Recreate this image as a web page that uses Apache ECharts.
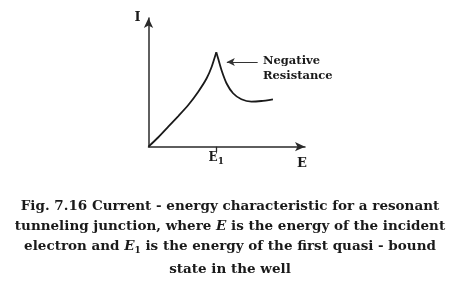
<!DOCTYPE html>
<html>
<head>
<meta charset="utf-8">
<script src="https://cdn.jsdelivr.net/npm/echarts@6/dist/echarts.min.js"></script>
<style>
html,body{margin:0;padding:0;background:#fff;}
#chart{width:459px;height:286px;}
</style>
</head>
<body>
<div id="chart"></div>
<script>
// Data (E in units of E1, I in units of peak current)
const risingE  = [0, 0.145, 0.292, 0.44, 0.587, 0.734, 0.858, 0.932, 1];
const risingI  = [0, 0.10, 0.212, 0.325, 0.442, 0.583, 0.725, 0.847, 1];
const fallingE = [1, 1.026, 1.076, 1.15, 1.247, 1.37, 1.518, 1.665, 1.835];
const fallingI = [1, 0.936, 0.812, 0.672, 0.566, 0.502, 0.477, 0.484, 0.502];
const tickValues = [1];
const tickLabels = ['E1'];
const xAxisName = 'E';
const yAxisName = 'I';
const annotation = ['Negative', 'Resistance'];
const arrowFrom = [1.61, 0.897];
const arrowTo = [1.155, 0.897];
const captionLines = [
  'Fig. 7.16 Current - energy characteristic for a resonant',
  'tunneling junction, where {i|E} is the energy of the incident',
  'electron and {i|E}{sub|1} is the energy of the first quasi - bound',
  'state in the well'
];

const serif = '"DejaVu Serif", serif';
const ink = '#1a1a1a';

const chart = echarts.init(document.getElementById('chart'), null, {renderer: 'canvas'});

const zip = (a, b) => a.map((v, i) => [v, b[i]]);

const lineSeries = (data) => ({
  type: 'line',
  data: data,
  smooth: 0.2,
  showSymbol: false,
  symbol: 'none',
  lineStyle: {color: ink, width: 1.8},
  silent: true,
  animation: false
});

const captionY = [206.7, 226.7, 246.7, 269];

const option = {
  backgroundColor: '#ffffff',
  animation: false,
  grid: {left: 148.5, top: 18, right: 154, bottom: 139.3},
  xAxis: {
    type: 'value',
    min: 0,
    max: 2.308,
    name: xAxisName,
    nameLocation: 'end',
    nameGap: -3,
    nameTextStyle: {
      fontFamily: serif, fontWeight: 'bold', fontSize: 13, color: ink,
      verticalAlign: 'top', align: 'center', padding: [10, 0, 0, 0]
    },
    splitLine: {show: false},
    axisLine: {
      show: true,
      symbol: ['none', 'arrow'],
      symbolSize: [7, 10],
      lineStyle: {color: '#2a2a2a', width: 1.5}
    },
    axisTick: {
      show: true,
      customValues: tickValues,
      length: 5,
      inside: false,
      lineStyle: {color: '#2a2a2a', width: 1.3}
    },
    axisLabel: {
      show: true,
      customValues: tickValues,
      margin: 4,
      formatter: (v) => {
        const lbl = tickLabels[tickValues.indexOf(v)] || '';
        return '{e|' + lbl.charAt(0) + '}{s|' + lbl.slice(1) + '}';
      },
      rich: {
        e: {fontFamily: serif, fontWeight: 'bold', fontSize: 12, color: ink},
        s: {fontFamily: serif, fontWeight: 'bold', fontSize: 9, color: ink, verticalAlign: 'bottom', padding: [6, 0, 0, 0]}
      }
    }
  },
  yAxis: {
    type: 'value',
    min: 0,
    max: 1.363,
    name: yAxisName,
    nameLocation: 'end',
    nameGap: 0,
    nameTextStyle: {
      fontFamily: serif, fontWeight: 'bold', fontSize: 13, color: ink,
      align: 'right', verticalAlign: 'middle', padding: [0, 8, 4, 0]
    },
    splitLine: {show: false},
    axisTick: {show: false},
    axisLabel: {show: false},
    axisLine: {
      show: true,
      symbol: ['none', 'arrow'],
      symbolSize: [7, 10],
      lineStyle: {color: '#2a2a2a', width: 1.5}
    }
  },
  series: [
    lineSeries(zip(risingE, risingI)),
    Object.assign(lineSeries(zip(fallingE, fallingI)), {
      markLine: {
        silent: true,
        symbol: ['none', 'arrow'],
        symbolSize: [6, 8],
        lineStyle: {color: '#333', width: 1, type: 'solid'},
        label: {show: false},
        data: [[{coord: arrowFrom}, {coord: arrowTo}]]
      }
    })
  ],
  graphic: [
    {
      type: 'text',
      left: 263,
      top: 54,
      style: {
        text: annotation.join('\n'),
        fontFamily: serif, fontWeight: 'bold', fontSize: 11.5,
        lineHeight: 15, fill: ink
      }
    }
  ].concat(captionLines.map((t, i) => ({
    type: 'text',
    x: 230,
    y: captionY[i],
    style: {
      text: t,
      align: 'center',
      verticalAlign: 'middle',
      fontFamily: serif, fontWeight: 'bold', fontSize: 13.5, fill: ink,
      rich: {
        i: {fontFamily: serif, fontWeight: 'bold', fontStyle: 'italic', fontSize: 13.5, fill: ink},
        sub: {fontFamily: serif, fontWeight: 'bold', fontSize: 9, fill: ink, verticalAlign: 'bottom', padding: [7, 0, 0, 0]}
      }
    }
  })))
};

chart.setOption(option);
</script>
</body>
</html>
